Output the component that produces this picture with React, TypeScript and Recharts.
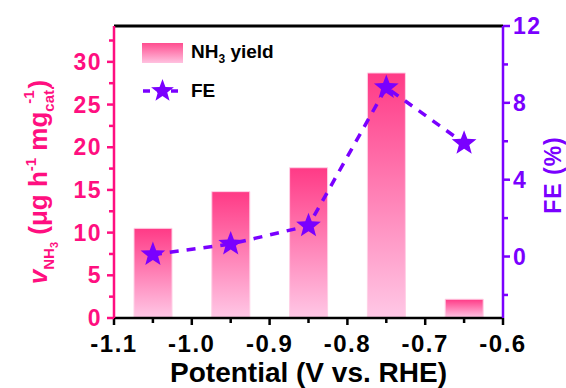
import {
  ComposedChart,
  Bar,
  Line,
  XAxis,
  YAxis,
  ReferenceLine,
} from "recharts";

const PINK = "#ff0f80";
const PURPLE = "#7a00ff";
const FONT = "'Liberation Sans', Arial, sans-serif";

// potential (V vs. RHE) for each measurement
const potentials = [-1.05, -0.95, -0.85, -0.75, -0.65];
// NH3 yield, µg h-1 mg-1
const yieldValues = [10.5, 14.8, 17.6, 28.7, 2.2];
// Faradaic efficiency, %
const feValues = [0.1, 0.65, 1.6, 8.8, 5.9];

const xTicks = [-1.1, -1.05, -1.0, -0.95, -0.9, -0.85, -0.8, -0.75, -0.7, -0.65, -0.6];
const leftTicks = [0, 2.5, 5, 7.5, 10, 12.5, 15, 17.5, 20, 22.5, 25, 27.5, 30, 32.5];
const rightTicks = [-2, 0, 2, 4, 6, 8, 10, 12];

const data = potentials.map((p, i) => ({
  potential: p,
  nh3: yieldValues[i],
  fe: feValues[i],
}));

const starPoints = (cx: number, cy: number, R: number, r: number) => {
  const pts: string[] = [];
  for (let i = 0; i < 10; i++) {
    const rad = i % 2 === 0 ? R : r;
    const a = -Math.PI / 2 + (i * Math.PI) / 5;
    pts.push(`${cx + rad * Math.cos(a)},${cy + rad * Math.sin(a)}`);
  }
  return pts.join(" ");
};

const Star = (props: any) => {
  const { cx, cy } = props;
  if (cx == null || cy == null) return null;
  return <polygon points={starPoints(cx, cy, 13, 5.5)} fill={PURPLE} />;
};

const XTick = (props: any) => {
  const { x, y, payload, index } = props;
  const major = index % 2 === 0;
  return (
    <g>
      <line x1={x} x2={x} y1={y} y2={y + (major ? 7 : 5)} stroke="#000" strokeWidth={2.5} />
      {major && (
        <text x={x} y={y + 34} textAnchor="middle" fontSize={24} fontWeight="bold" fill="#000" fontFamily={FONT} letterSpacing={1.5}>
          {payload.value.toFixed(1)}
        </text>
      )}
    </g>
  );
};

const LeftTick = (props: any) => {
  const { x, y, payload, index } = props;
  const major = index % 2 === 0;
  return (
    <g>
      <line x1={x} x2={x - (major ? 7 : 5)} y1={y} y2={y} stroke={PINK} strokeWidth={2.5} />
      {major && (
        <text x={x - 12} y={y} dy="0.35em" textAnchor="end" fontSize={23} fontWeight="bold" fill={PINK} fontFamily={FONT} letterSpacing={1.5}>
          {payload.value}
        </text>
      )}
    </g>
  );
};

const RightTick = (props: any) => {
  const { x, y, payload } = props;
  const major = payload.value % 4 === 0;
  return (
    <g>
      <line x1={x} x2={x + (major ? 7 : 5)} y1={y} y2={y} stroke={PURPLE} strokeWidth={2.5} />
      {major && (
        <text x={x + 10} y={y} dy="0.35em" textAnchor="start" fontSize={23} fontWeight="bold" fill={PURPLE} fontFamily={FONT} letterSpacing={1.5}>
          {payload.value}
        </text>
      )}
    </g>
  );
};

const LeftTitle = () => (
  <text
    transform="translate(47,182) rotate(-90)"
    textAnchor="middle"
    fontSize={26}
    fontWeight="bold"
    fill={PINK}
    fontFamily={FONT}
  >
    <tspan fontStyle="italic">v</tspan>
    <tspan fontSize={15} dy={7}>NH</tspan>
    <tspan fontSize={11} dy={4}>3</tspan>
    <tspan dy={-11}> (μg h</tspan>
    <tspan fontSize={15} dy={-11}>-1</tspan>
    <tspan dy={11}> mg</tspan>
    <tspan fontSize={15} dy={7}>cat.</tspan>
    <tspan fontSize={15} dx={-18} dy={-20}>-1</tspan>
    <tspan dx={2} dy={13}>)</tspan>
  </text>
);

const RightTitle = () => (
  <text
    transform="translate(561,175) rotate(-90)"
    textAnchor="middle"
    fontSize={23}
    fontWeight="bold"
    fill={PURPLE}
    fontFamily={FONT}
    letterSpacing={1}
  >
    FE (%)
  </text>
);

const LegendBox = () => (
  <div
    style={{
      position: "absolute",
      left: 142,
      top: 42,
      fontFamily: FONT,
      fontWeight: "bold",
      fontSize: 19,
      color: "#000",
      pointerEvents: "none",
    }}
  >
    <div style={{ display: "flex", alignItems: "center", height: 22 }}>
      <div
        style={{
          width: 41,
          height: 20,
          background: "linear-gradient(#ff4d8f, #ffc2e0)",
          marginRight: 8,
        }}
      />
      <span>
        NH<sub style={{ fontSize: 12 }}>3</sub> yield
      </span>
    </div>
    <div style={{ display: "flex", alignItems: "center", height: 26, marginTop: 14 }}>
      <svg width={41} height={26} style={{ marginRight: 8 }}>
        <line x1={1} x2={40} y1={13} y2={13} stroke={PURPLE} strokeWidth={3.5} strokeDasharray="7 7" />
        <polygon points={starPoints(20.5, 13, 12, 5)} fill={PURPLE} />
      </svg>
      <span>FE</span>
    </div>
  </div>
);

export default function App() {
  return (
    <div style={{ position: "absolute", left: 0, top: 0, width: 566, height: 388, background: "#fff" }}>
      <ComposedChart
        width={566}
        height={388}
        data={data}
        margin={{ top: 26, right: 0, bottom: 0, left: 0 }}
      >
        <defs>
          <linearGradient id="barGrad" x1="0" y1="0" x2="0" y2="1">
            <stop offset="0%" stopColor="#ff3a86" />
            <stop offset="100%" stopColor="#ffc8e6" />
          </linearGradient>
        </defs>
        <XAxis
          dataKey="potential"
          type="number"
          domain={[-1.1, -0.6]}
          ticks={xTicks}
          interval={0}
          height={70}
          stroke="#000"
          strokeWidth={2.5}
          tickLine={false}
          tickSize={0}
          tickMargin={0}
          tick={<XTick />}
          allowDataOverflow
          label={{
            value: "Potential (V vs. RHE)",
            position: "insideBottom",
            offset: 6,
            fontSize: 28,
            fontWeight: "bold",
            fill: "#000",
            fontFamily: FONT,
          }}
        />
        <YAxis
          yAxisId="left"
          domain={[0, 34.2]}
          ticks={leftTicks}
          interval={0}
          width={114}
          stroke={PINK}
          strokeWidth={2.5}
          tickLine={false}
          tickSize={0}
          tickMargin={0}
          tick={<LeftTick />}
          allowDataOverflow
          label={{ content: <LeftTitle /> }}
        />
        <YAxis
          yAxisId="right"
          orientation="right"
          domain={[-3.2, 12]}
          ticks={rightTicks}
          interval={0}
          width={63}
          stroke={PURPLE}
          strokeWidth={2.5}
          tickLine={false}
          tickSize={0}
          tickMargin={0}
          tick={<RightTick />}
          allowDataOverflow
          label={{ content: <RightTitle /> }}
        />
        <ReferenceLine yAxisId="left" y={34.2} stroke="#000" strokeWidth={3} ifOverflow="extendDomain" />
        <Bar
          yAxisId="left"
          dataKey="nh3"
          barSize={38}
          fill="url(#barGrad)"
          stroke="#ffd0e6"
          strokeWidth={1}
          isAnimationActive={false}
        />
        <Line
          yAxisId="right"
          dataKey="fe"
          stroke={PURPLE}
          strokeWidth={3.5}
          strokeDasharray="9 8"
          dot={<Star />}
          activeDot={false}
          isAnimationActive={false}
        />
      </ComposedChart>
      <LegendBox />
    </div>
  );
}
